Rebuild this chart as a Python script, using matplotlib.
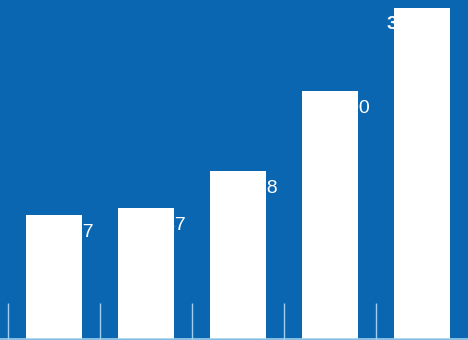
import numpy as np
import matplotlib.pyplot as plt

# Yearly totals
categories = ['A', 'B', 'C', 'D', 'E']
values = [12357, 13047, 16738, 24700, 32967]
labels = ['12,357', '13,047', '16,738', '24,700', '32,967']

bg = '#0A66B0'
pale = '#9FCFEE'

fig = plt.figure(figsize=(4.68, 3.4), dpi=100)
fig.patch.set_facecolor(bg)
ax = fig.add_axes([0, 0, 1, 1])
ax.set_facecolor(bg)

x = np.arange(len(categories))
bars = ax.bar(x, values, width=0.61, color='white', zorder=3)

# value labels, the last one in bold and pulled in from the edge
for i, (b, lab) in enumerate(zip(bars, labels)):
    last = i == len(labels) - 1
    ax.annotate(lab, xy=(b.get_x() + b.get_width() / 2, b.get_height()),
                xytext=(-4 if last else 7.5, -6), textcoords='offset points',
                ha='center', va='top', color='white', fontsize=14,
                family='Liberation Sans',
                fontweight='bold' if last else 'normal', zorder=4)

ax.set_xlim(-0.583, 4.504)
ax.set_ylim(-100, 33760)

# category separators as short ticks rising from the base line
ax.set_xticks(x - 0.5, minor=True)
ax.set_xticks([])
ax.set_yticks([])
ax.tick_params(axis='x', which='minor', direction='in', length=27,
               width=1, color=pale)
ax.axhline(0, color=pale, lw=1.2, zorder=5)
for s in ax.spines.values():
    s.set_visible(False)

fig.savefig('out.png', dpi=100, facecolor=bg)
